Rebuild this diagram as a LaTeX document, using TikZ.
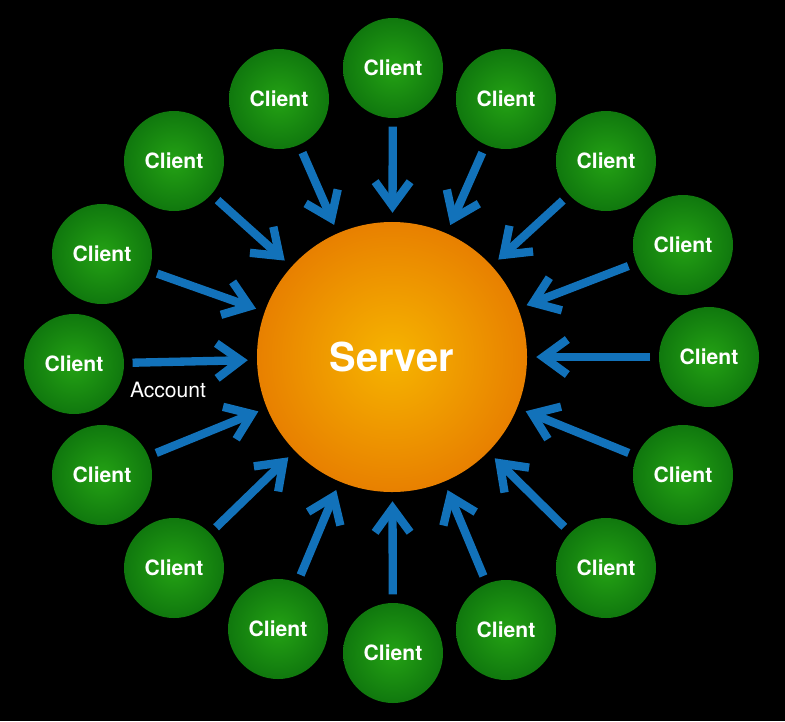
\documentclass[tikz,border=0pt]{standalone}
\usepackage{fontspec}
\setmainfont{TeX Gyre Heros}
\usetikzlibrary{arrows.meta}
\definecolor{vertclair}{RGB}{36,162,20}
\definecolor{vertfonce}{RGB}{16,120,14}
\definecolor{orangeclair}{RGB}{246,180,0}
\definecolor{orangefonce}{RGB}{232,128,0}
\definecolor{bleu}{RGB}{18,114,186}
\tikzstyle{client} = [circle, minimum size=3cm, inner sep=0pt, shade, inner color=vertclair, outer color=vertfonce, text=white, font=\fontsize{18}{20}\selectfont\bfseries]
\tikzstyle{serveur} = [circle, minimum size=8.1cm, inner sep=0pt, shade, inner color=orangeclair, outer color=orangefonce, text=white, font=\fontsize{34}{38}\selectfont\bfseries]
\tikzstyle{fleche} = [draw=bleu, line width=0.25cm, -{Straight Barb[length=0.72cm, width=1.05cm]}, shorten <=0.25cm, shorten >=0.27cm]

\begin{document}
\begin{tikzpicture}[x=0.03cm, y=-0.03cm]
                \fill[black] (0,0) rectangle (785,721);

                \node [serveur] (serveur) at (392,357) {Server};

                \node [client] (c1) at (393,68) {Client};
                \node [client] (c2) at (506,99) {Client};
                \node [client] (c3) at (606,161) {Client};
                \node [client] (c4) at (683,245) {Client};
                \node [client] (c5) at (709,357) {Client};
                \node [client] (c6) at (683,475) {Client};
                \node [client] (c7) at (606,568) {Client};
                \node [client] (c8) at (506,630) {Client};
                \node [client] (c9) at (393,653) {Client};
                \node [client] (c10) at (278,629) {Client};
                \node [client] (c11) at (174,568) {Client};
                \node [client] (c12) at (102,475) {Client};
                \node [client] (c13) at (74,364) {Client};
                \node [client] (c14) at (102,254) {Client};
                \node [client] (c15) at (174,161) {Client};
                \node [client] (c16) at (279,99) {Client};

                \node [text=white, font=\fontsize{18}{20}\selectfont] (compte) at (168,390) {Account};

                \draw[fleche] (c1) -- (serveur);
                \draw[fleche] (c2) -- (serveur);
                \draw[fleche] (c3) -- (serveur);
                \draw[fleche] (c4) -- (serveur);
                \draw[fleche] (c5) -- (serveur);
                \draw[fleche] (c6) -- (serveur);
                \draw[fleche] (c7) -- (serveur);
                \draw[fleche] (c8) -- (serveur);
                \draw[fleche] (c9) -- (serveur);
                \draw[fleche] (c10) -- (serveur);
                \draw[fleche] (c11) -- (serveur);
                \draw[fleche] (c12) -- (serveur);
                \draw[fleche] (c13) -- (serveur);
                \draw[fleche] (c14) -- (serveur);
                \draw[fleche] (c15) -- (serveur);
                \draw[fleche] (c16) -- (serveur);
\end{tikzpicture}
\end{document}
